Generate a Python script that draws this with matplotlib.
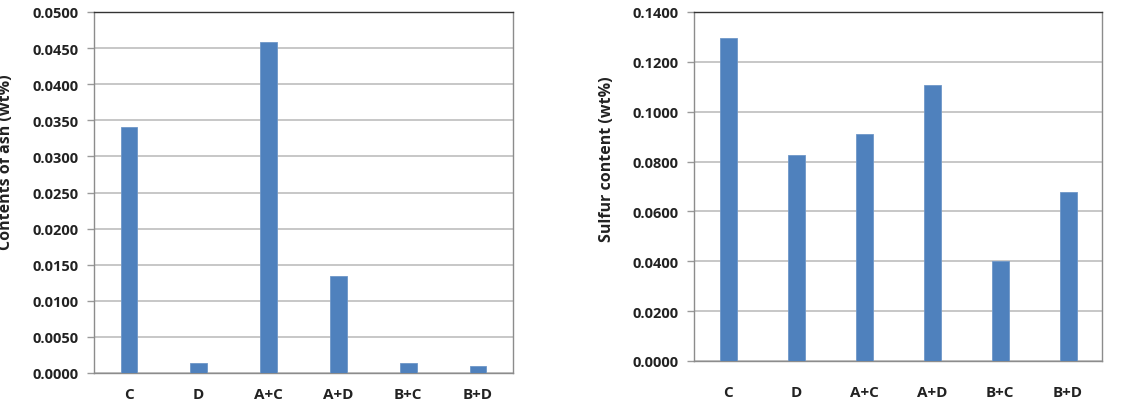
import matplotlib
matplotlib.use("Agg")
import matplotlib.pyplot as plt
import numpy as np

categories = ["C", "D", "A+C", "A+D", "B+C", "B+D"]
ash_values = [0.0341, 0.00143, 0.0459, 0.0134, 0.00143, 0.0010]
sulfur_values = [0.1296, 0.0827, 0.0911, 0.1106, 0.0400, 0.0678]
ash_ticks = [0.0000, 0.0050, 0.0100, 0.0150, 0.0200, 0.0250, 0.0300, 0.0350, 0.0400, 0.0450, 0.0500]
sulfur_ticks = [0.0000, 0.0200, 0.0400, 0.0600, 0.0800, 0.1000, 0.1200, 0.1400]

plt.rcParams['font.family'] = ['Open Sans', 'DejaVu Sans']
plt.rcParams['font.weight'] = 'bold'

W, H = 1127, 402
fig = plt.figure(figsize=(W/100, H/100), dpi=100)

def px_axes(x0, y0, x1, y1):
    return fig.add_axes([x0/W, 1 - y1/H, (x1-x0)/W, (y1-y0)/H])

bar_color = "#4F81BD"

def style(ax, values, ticks, width, label, xpad, labelx, labely):
    x = np.arange(len(categories))
    ax.bar(x, values, width=width, color=bar_color, edgecolor="#6f97c8", linewidth=0.6, zorder=3)
    ax.set_xlim(-0.5, len(categories) - 0.5)
    ax.set_ylim(ticks[0], ticks[-1])
    ax.set_yticks(ticks)
    ax.set_yticklabels([f"{t:.4f}" for t in ticks], fontsize=10.5, fontweight='bold', color="#222222")
    ax.set_xticks(x)
    ax.set_xticklabels(categories, fontsize=11, fontweight='bold', color="#222222")
    ax.tick_params(axis='x', length=0, pad=xpad)
    ax.tick_params(axis='y', length=5, width=1, color="#9a9a9a", pad=6)
    ax.yaxis.grid(True, color="#b8b8b8", linewidth=1.1, zorder=0)
    ax.set_axisbelow(True)
    for s in ["left", "right", "bottom"]:
        ax.spines[s].set_color("#8c8c8c")
        ax.spines[s].set_linewidth(1.0)
    ax.spines["top"].set_color("#333333")
    ax.spines["top"].set_linewidth(1.0)
    ax.set_ylabel(label, fontsize=11.5, fontweight='bold', color="#222222")
    ax.yaxis.set_label_coords(labelx, labely)

ax1 = px_axes(94, 13, 513, 374)
style(ax1, ash_values, ash_ticks, 0.24, "Contents of ash (wt%)", 10, -0.19, 0.587)

ax2 = px_axes(694, 13, 1102, 362)
style(ax2, sulfur_values, sulfur_ticks, 0.25, "Sulfur content (wt%)", 17, -0.194, 0.58)

fig.savefig("out.png", dpi=100, facecolor="white")
